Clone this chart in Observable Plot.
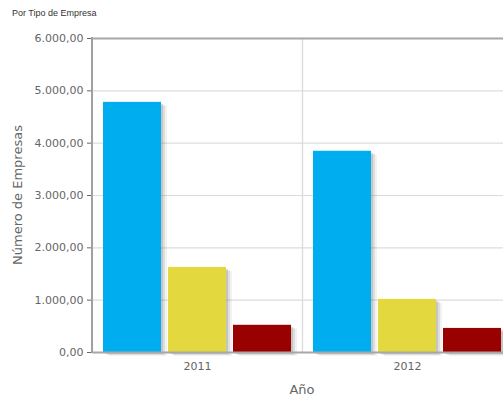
<!DOCTYPE html>
<html>
<head>
<meta charset="utf-8">
<script src="https://cdn.jsdelivr.net/npm/d3@7"></script>
<script src="https://cdn.jsdelivr.net/npm/@observablehq/plot@0.6"></script>
<style>
  html, body { margin: 0; padding: 0; background: #fff; overflow: hidden; }
  #wrap { position: relative; width: 503px; height: 399px; }
  #title { position: absolute; left: 12px; top: 8px; font: 9px "Liberation Sans", sans-serif; color: #333; }
  svg { display: block; }
</style>
</head>
<body>
<div id="wrap">
  <div id="title">Por Tipo de Empresa</div>
  <div id="chart"></div>
</div>
<script>
const years = ["2011", "2012"];
const types = ["Tipo A", "Tipo B", "Tipo C"];
const colors = ["#00AEEF", "#E3D83E", "#990000"];
const values2011 = [4780, 1625, 520];
const values2012 = [3845, 1015, 460];
const yTicks = [0, 1000, 2000, 3000, 4000, 5000, 6000];

const data = [];
years.forEach((yr, i) => {
  const vals = i === 0 ? values2011 : values2012;
  types.forEach((t, j) => data.push({year: yr, type: t, value: vals[j]}));
});

const es = d3.formatLocale({decimal: ",", thousands: ".", grouping: [3], currency: ["", ""]});
const fmt = es.format(",.2f");

const shadow = (dx, dy, op) => Plot.rectY(data, {
  x: "type", fx: "year", y: "value", fill: "#555", fillOpacity: op, dx, dy
});

const chart = Plot.plot({
  width: 503,
  height: 399,
  marginTop: 38,
  marginBottom: 47,
  marginLeft: 92,
  marginRight: -9,
  style: {fontFamily: "DejaVu Sans, sans-serif", fontSize: "11px", color: "#666", background: "transparent"},
  fx: {domain: years, padding: 0, label: null, tickSize: 0, tickPadding: 10},
  x: {domain: types, paddingInner: 0.106, paddingOuter: 0.144, axis: null},
  y: {domain: [0, 6000], ticks: yTicks, tickFormat: fmt, label: null, tickSize: 5, tickPadding: 4},
  color: {domain: types, range: colors},
  marks: [
    Plot.ruleY(yTicks, {stroke: "#dcdcdc", strokeWidth: 1.2}),
    Plot.frame({stroke: "#dcdcdc", strokeWidth: 1.2}),
    Plot.ruleY([6000], {stroke: "#a8a8a8", strokeWidth: 2}),
    shadow(6, 4, 0.08),
    shadow(4, 3, 0.12),
    shadow(2, 2, 0.18),
    Plot.rectY(data, {x: "type", fx: "year", y: "value", fill: "type"}),
    Plot.ruleY([0], {stroke: "#a8a8a8", strokeWidth: 2})
  ]
});

// axis titles and left axis line, drawn from the chart's own scales
const yScale = chart.scale("y");
const fxScale = chart.scale("fx");
const svg = d3.select(chart);
const y0 = yScale.apply(0), y1 = yScale.apply(6000);
const xLeft = fxScale.apply(years[0]);
const xRight = fxScale.apply(years[years.length - 1]) + fxScale.bandwidth;
svg.append("line")
  .attr("x1", xLeft).attr("x2", xLeft).attr("y1", y1 - 1).attr("y2", y0 + 1)
  .attr("stroke", "#a0a0a0").attr("stroke-width", 2);
svg.append("text")
  .attr("transform", `translate(18,${(y0 + y1) / 2}) rotate(-90)`)
  .attr("text-anchor", "middle").attr("dominant-baseline", "middle")
  .attr("font-size", 13).attr("fill", "#666").attr("font-family", "DejaVu Sans, sans-serif")
  .text("Número de Empresas");
svg.append("text")
  .attr("x", (xLeft + xRight) / 2).attr("y", 390)
  .attr("text-anchor", "middle").attr("dominant-baseline", "middle")
  .attr("font-size", 13).attr("fill", "#666").attr("font-family", "DejaVu Sans, sans-serif")
  .text("Año");
document.getElementById("chart").appendChild(chart);
</script>
</body>
</html>
